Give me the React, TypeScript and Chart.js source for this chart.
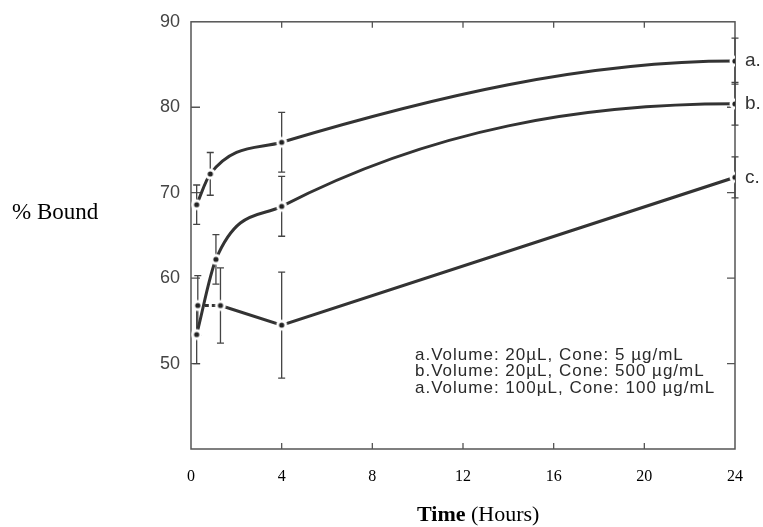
import { useEffect, useRef } from "react";
import { Chart, registerables } from "chart.js";
Chart.register(...registerables);

const seriesNames = ["a.", "b.", "c."];
const hoursA = [0.25, 0.85, 4, 24];
const boundA = [68.6, 72.2, 75.9, 85.4];
const errA = [2.3, 2.5, 3.5, 2.7];
const hoursB = [0.25, 1.1, 4, 24];
const boundB = [53.4, 62.2, 68.4, 80.4];
const errB = [3.4, 2.9, 3.5, 2.5];
const hoursC = [0.3, 1.3, 4, 24];
const boundC = [56.8, 56.8, 54.5, 71.8];
const errC = [3.5, 4.4, 6.2, 2.4];
const xTicks = [0, 4, 8, 12, 16, 20, 24];
const yTicks = [50, 60, 70, 80, 90];
const legendLines = [
  "a.Volume: 20µL, Cone: 5 µg/mL",
  "b.Volume: 20µL, Cone: 500 µg/mL",
  "a.Volume: 100µL, Cone: 100 µg/mL",
];
const yTitle = "% Bound";
const xTitleBold = "Time";
const xTitleRest = " (Hours)";

const errorSets = [errA, errB, errC];

const SANS = '"Liberation Sans", Arial, Helvetica, sans-serif';
const SERIF = '"Liberation Serif", "Times New Roman", serif';

const decor = {
  id: "decor",
  beforeDatasetsDraw(chart: any) {
    const { ctx, chartArea: ca, scales } = chart;
    const x = scales.x;
    const y = scales.y;
    // curves level off at the last reading, as in the original drawing
    chart.data.datasets.forEach((ds: any, i: number) => {
      if (!ds.flatEnd) return;
      const meta = chart.getDatasetMeta(i);
      meta.dataset.updateControlPoints(ca, meta.iAxis);
      const pts = meta.data;
      const last = pts[pts.length - 1];
      last.cp1y = last.y;
    });
    ctx.save();
    ctx.strokeStyle = "#555";
    ctx.lineWidth = 1.5;
    ctx.strokeRect(ca.left, ca.top, ca.right - ca.left, ca.bottom - ca.top);
    ctx.lineWidth = 1.3;
    ctx.beginPath();
    xTicks.forEach((v) => {
      if (v <= x.min || v >= x.max) return;
      const px = x.getPixelForValue(v);
      ctx.moveTo(px, ca.bottom);
      ctx.lineTo(px, ca.bottom - 6);
      ctx.moveTo(px, ca.top);
      ctx.lineTo(px, ca.top + 6);
    });
    yTicks.forEach((v) => {
      if (v >= y.max) return;
      const py = y.getPixelForValue(v);
      ctx.moveTo(ca.left, py);
      ctx.lineTo(ca.left + 9, py);
      ctx.moveTo(ca.right, py);
      ctx.lineTo(ca.right - 8, py);
    });
    ctx.stroke();
    ctx.strokeStyle = "#444";
    ctx.lineWidth = 1.3;
    chart.data.datasets.forEach((ds: any, i: number) => {
      const errs = errorSets[i];
      ds.data.forEach((pt: any, j: number) => {
        const px = x.getPixelForValue(pt.x);
        const top = y.getPixelForValue(pt.y + errs[j]);
        const bot = y.getPixelForValue(pt.y - errs[j]);
        ctx.beginPath();
        ctx.moveTo(px, top);
        ctx.lineTo(px, bot);
        ctx.moveTo(px - 3.5, top);
        ctx.lineTo(px + 3.5, top);
        ctx.moveTo(px - 3.5, bot);
        ctx.lineTo(px + 3.5, bot);
        ctx.stroke();
      });
    });
    ctx.restore();
  },
  afterDraw(chart: any) {
    const { ctx, chartArea: ca, scales } = chart;
    const x = scales.x;
    const y = scales.y;
    ctx.save();
    ctx.fillStyle = "#333";
    ctx.textBaseline = "middle";
    ctx.textAlign = "left";
    ctx.font = `19px ${SANS}`;
    chart.data.datasets.forEach((ds: any, i: number) => {
      const last = ds.data[ds.data.length - 1];
      ctx.fillText(seriesNames[i], x.getPixelForValue(last.x) + 10, y.getPixelForValue(last.y));
    });
    ctx.fillStyle = "#2a2a2a";
    ctx.font = `17px ${SANS}`;
    try { (ctx as any).letterSpacing = "1px"; } catch (e) {}
    legendLines.forEach((t, i) => {
      ctx.fillText(t, ca.left + 224, ca.bottom - 94 + i * 16.5);
    });
    try { (ctx as any).letterSpacing = "0px"; } catch (e) {}
    ctx.fillStyle = "#000";
    ctx.font = `23px ${SERIF}`;
    ctx.fillText(yTitle, 12, 213);
    ctx.font = `bold 22px ${SERIF}`;
    const bx = 417;
    ctx.fillText(xTitleBold, bx, 515);
    const w = ctx.measureText(xTitleBold).width;
    ctx.font = `22px ${SERIF}`;
    ctx.fillText(xTitleRest, bx + w, 515);
    ctx.restore();
  },
};

function makePointImage() {
  const c = document.createElement("canvas");
  c.width = 14;
  c.height = 14;
  const g = c.getContext("2d")!;
  g.fillStyle = "#fff";
  g.beginPath();
  g.arc(7, 7, 5.5, 0, Math.PI * 2);
  g.fill();
  g.fillStyle = "#222";
  g.beginPath();
  g.arc(7, 7, 2.6, 0, Math.PI * 2);
  g.fill();
  return c;
}

export default function App() {
  const ref = useRef<HTMLCanvasElement>(null);
  useEffect(() => {
    if (!ref.current) return;
    const img = makePointImage();
    const mk = (hs: number[], vs: number[]) => hs.map((h, i) => ({ x: h, y: vs[i] }));
    const common = {
      borderColor: "#333",
      borderWidth: 3,
      pointStyle: img as any,
      pointRadius: 7,
      fill: false,
    };
    const chart = new Chart(ref.current, {
      type: "line",
      data: {
        datasets: [
          { ...common, label: seriesNames[0], data: mk(hoursA, boundA), cubicInterpolationMode: "monotone", flatEnd: true } as any,
          { ...common, label: seriesNames[1], data: mk(hoursB, boundB), cubicInterpolationMode: "monotone", flatEnd: true } as any,
          {
            ...common,
            label: seriesNames[2],
            data: mk(hoursC, boundC),
            tension: 0,
            segment: { borderDash: (c: any) => (c.p0DataIndex === 0 ? [4, 3] : undefined) },
          },
        ],
      },
      options: {
        animation: false,
        responsive: false,
        layout: { padding: { top: 17, right: 28, left: 0, bottom: 0 } },
        plugins: { legend: { display: false }, tooltip: { enabled: false } },
        scales: {
          x: {
            type: "linear",
            min: 0,
            max: 24,
            afterBuildTicks: (s: any) => {
              s.ticks = xTicks.map((v) => ({ value: v }));
            },
            afterFit: (s: any) => {
              s.height = 78;
            },
            grid: { display: false, drawTicks: false },
            border: { display: false },
            ticks: {
              autoSkip: false,
              maxRotation: 0,
              padding: 18,
              color: "#000",
              font: { family: SERIF, size: 16 },
            },
          },
          y: {
            type: "linear",
            min: 40,
            max: 90,
            afterBuildTicks: (s: any) => {
              s.ticks = yTicks.map((v) => ({ value: v }));
            },
            afterFit: (s: any) => {
              s.width = 191;
            },
            grid: { display: false, drawTicks: false },
            border: { display: false },
            ticks: {
              padding: 11,
              color: "#444",
              font: { family: SANS, size: 18 },
            },
          },
        },
      },
      plugins: [decor],
    });
    return () => chart.destroy();
  }, []);
  return (
    <div style={{ position: "absolute", left: 0, top: 0, width: 763, height: 527, background: "#fff" }}>
      <canvas ref={ref} width={763} height={527} />
    </div>
  );
}
